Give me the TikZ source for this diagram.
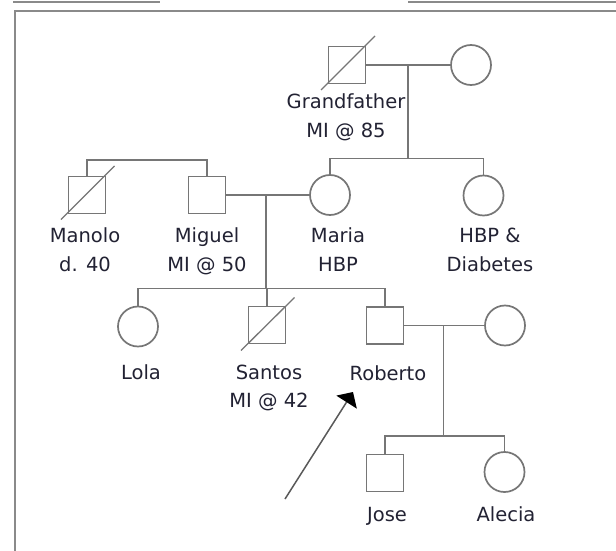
\documentclass[tikz,border=0pt]{standalone}
\usepackage{fontspec}
\setmainfont{DejaVu Sans}
\usetikzlibrary{arrows.meta,calc}
\definecolor{linegray}{HTML}{767676}
\definecolor{framegray}{HTML}{8A8A8A}
\definecolor{textdark}{HTML}{222233}
\tikzset{
  male/.style={draw=linegray, line width=1.7pt, rectangle, minimum size=37pt, inner sep=0pt},
  female/.style={draw=linegray, line width=1.7pt, circle, minimum size=40pt, inner sep=0pt},
  link/.style={draw=linegray, line width=1.7pt},
  slash/.style={draw=linegray, line width=1.3pt},
  frameline/.style={draw=framegray, line width=2pt},
  lbl/.style={text=textdark, font=\fontsize{19.5pt}{28.5pt}\selectfont, align=center, anchor=base, inner sep=0pt},
  proband/.style={draw=black!65, line width=1.5pt, -{Triangle[length=12pt,width=24pt,fill=black,color=black]}}
}
\begin{document}
\begin{tikzpicture}[x=1pt,y=-1pt]
\useasboundingbox[fill=white] (0,0) rectangle (616,551);
% frame
\draw[frameline] (13,2) -- (160,2);
\draw[frameline] (408,2) -- (616,2);
\draw[frameline] (15,551) -- (15,11) -- (616,11);
% generation I
\node[male] (gf) at (347,65) {};
\node[female] (gm) at (471,65) {};
% generation II
\node[male] (manolo) at (87,195) {};
\node[male] (miguel) at (207,195) {};
\node[female] (maria) at (330,195) {};
\node[female] (hbp) at (483.5,195.5) {};
% generation III
\node[female] (lola) at (138,326.5) {};
\node[male] (santos) at (267,325) {};
\node[male] (roberto) at (385,325.5) {};
\node[female] (wife) at (505,325.5) {};
% generation IV
\node[male] (jose) at (385,473) {};
\node[female] (alecia) at (504.5,472) {};
% junction coordinates
\coordinate (m1) at (408,65);
\coordinate (s1) at (408,158.5);
\coordinate (s0) at (147,160);
\coordinate (m2) at (266,195);
\coordinate (s2) at (266,288.5);
\coordinate (m3) at (443.5,325.5);
\coordinate (s3) at (443.5,436);
% connectors
\draw[link] (gf.east) -- (gm.west);
\draw[link] (m1) -- (s1);
\draw[link] (maria.north) |- (s1) -| (hbp.north);
\draw[link] (manolo.north) |- (s0) -| (miguel.north);
\draw[link] (miguel.east) -- (maria.west);
\draw[link] (m2) -- (s2);
\draw[link] (lola.north) |- (s2) -| (roberto.north);
\draw[link] (santos.north) -- (santos.north |- s2);
\draw[link] (roberto.east) -- (wife.west);
\draw[link] (m3) -- (s3);
\draw[link] (jose.north) |- (s3) -| (alecia.north);
% deceased slashes
\draw[slash] ($(gf.center)+(-26,25)$) -- ($(gf.center)+(28,-29)$);
\draw[slash] ($(manolo.center)+(-26,24.5)$) -- ($(manolo.center)+(27.5,-29)$);
\draw[slash] ($(santos.center)+(-26,25.5)$) -- ($(santos.center)+(27.5,-27.5)$);
% labels (anchor = baseline of last line)
\node[lbl] (lgf) at (346,137) {Grandfather\\MI @ 85};
\node[lbl] (lmanolo) at (85,271) {Manolo\\d. 40};
\node[lbl] (lmiguel) at (207,271) {Miguel\\MI @ 50};
\node[lbl] (lmaria) at (338,271) {Maria\\HBP};
\node[lbl] (lhbp) at (490,271) {HBP \&\\Diabetes};
\node[lbl] (llola) at (141,379) {Lola};
\node[lbl] (lsantos) at (269,407.5) {Santos\\MI @ 42};
\node[lbl] (lroberto) at (388,380) {Roberto};
\node[lbl] (ljose) at (387,521.5) {Jose};
\node[lbl] (lalecia) at (506,521.5) {Alecia};
% proband arrow
\coordinate (pstart) at (285,499);
\coordinate (ptip) at (353,392);
\draw[proband] (pstart) -- (ptip);
\end{tikzpicture}
\end{document}
